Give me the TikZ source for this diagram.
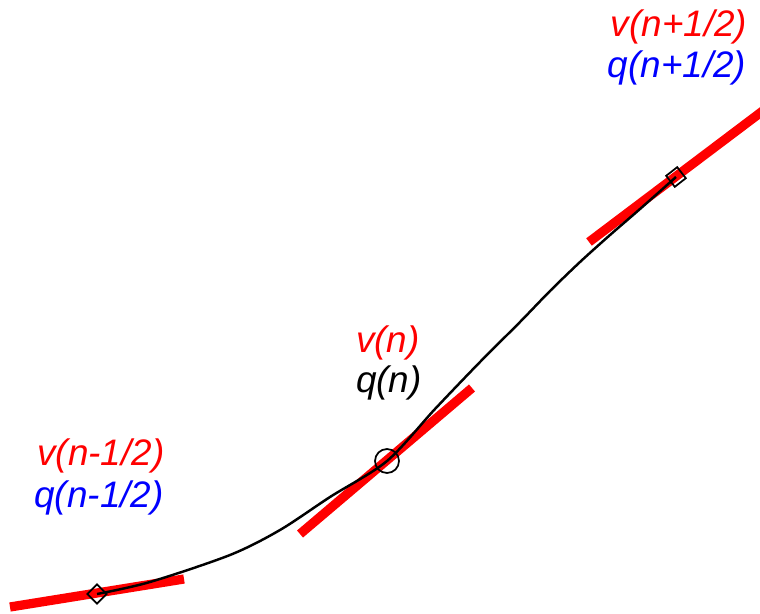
\documentclass[tikz,border=0pt]{standalone}
\usepackage{fontspec}
\setmainfont{Liberation Sans}
\usetikzlibrary{positioning, shapes.geometric}
\tikzset{
  tangent/.style={draw=red, line width=0.185cm},
  traj/.style={draw=black, line width=1.4pt},
  markpt/.style={draw=black, line width=1pt, inner sep=0pt},
  vlab/.style={anchor=base, inner sep=0pt, text=red,
               font=\fontsize{21}{25}\selectfont\itshape},
  qlab/.style={anchor=base, inner sep=0pt, text=blue,
               font=\fontsize{21}{25}\selectfont\itshape},
}
\begin{document}
\begin{tikzpicture}[x=0.02cm, y=-0.02cm]
  \useasboundingbox (0,0) rectangle (760,614);
  % tangent ends
  \coordinate (tl1) at (10,607);
  \coordinate (tl2) at (184,579);
  \coordinate (tm1) at (300,534);
  \coordinate (tm2) at (472,388);
  \coordinate (tr1) at (589,242);
  \coordinate (tr2) at (764,110);
  \draw[tangent] (tl1) -- (tl2);
  \draw[tangent] (tm1) -- (tm2);
  \draw[tangent] (tr1) -- (tr2);
  % markers
  \node[markpt, diamond, minimum size=0.40cm] (qleft) at (97,594) {};
  \node[markpt, circle, minimum size=0.48cm] (qmid) at (387,461) {};
  \node[markpt, rectangle, minimum size=0.28cm, rotate=38] (qright) at (676,177) {};
  % trajectory
  \draw[traj] plot[smooth] coordinates {(qleft.center) (150,582) (230,555)
    (280,530) (330,497) (qmid.center) (435,409) (480,362) (520,322)
    (550,291) (580,262) (610,235) (640,209) (qright.center)};
  % labels
  \node[vlab] (vright) at (679,37) {v(n+1/2)};
  \node[qlab] (qrlab) at (677,78) {q(n+1/2)};
  \node[vlab] (vmid) at (388,353) {v(n)};
  \node[qlab, text=black] (qmlab) at (389,393) {q(n)};
  \node[vlab] (vleft) at (101,465) {v(n-1/2)};
  \node[qlab] (qllab) at (99,507) {q(n-1/2)};
\end{tikzpicture}
\end{document}
